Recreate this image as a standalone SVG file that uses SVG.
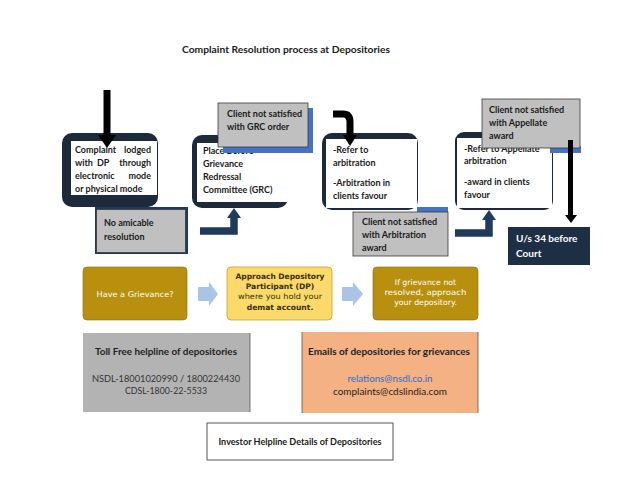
<svg xmlns="http://www.w3.org/2000/svg" width="640" height="500" viewBox="0 0 640 500">
<style>
text{font-family:Lato,"Liberation Sans",sans-serif;}
.b{font-weight:bold;font-size:9px;fill:#1a1a1a;}
.e{text-anchor:end;}
.frame{fill:#1c2a3b;}
.white{fill:#ffffff;}
.gray{fill:#c0c0c0;stroke:#3a3a3a;stroke-width:0.8;}
.blue{fill:#4472c4;}
.gold{fill:#b8900e;stroke:#8a6a08;stroke-width:0.6;}
.g{font-size:7.8px;fill:#ffffff;text-anchor:middle;font-family:"DejaVu Sans",sans-serif;}
.y{font-size:7.6px;fill:#3a3000;text-anchor:middle;font-family:"DejaVu Sans",sans-serif;}
.nav{fill:none;stroke:#1f3a5a;stroke-width:7.5;}
.blk{fill:none;stroke:#000;stroke-width:7;}
.lb{fill:#a9c4e4;}
.h{font-size:8.6px;text-anchor:middle;}
</style>
<rect width="640" height="500" fill="#ffffff"/>
<text x="286" y="53" text-anchor="middle" font-weight="bold" font-size="9.8" fill="#1a1a1a" textLength="208" lengthAdjust="spacingAndGlyphs">Complaint Resolution process at Depositories</text>

<g id="node-complaint">
<rect class="frame" x="62" y="133" width="96" height="74" rx="10"/>
<rect class="white" x="71" y="141" width="86" height="54"/>
<text class="b" x="75" y="153">Complaint</text><text class="b e" x="151" y="153">lodged</text>
<text class="b" x="75" y="166">with</text><text class="b" x="97" y="166">DP</text><text class="b e" x="151" y="166">through</text>
<text class="b" x="75" y="179">electronic</text><text class="b e" x="151" y="179">mode</text>
<text class="b" x="75" y="192">or physical mode</text>
</g>

<g id="node-no-amicable">
<rect fill="#1f3a5a" x="95" y="207" width="93" height="47"/>
<rect class="gray" x="96.5" y="209.5" width="89" height="43" stroke="none"/>
<text class="b" x="104" y="226">No amicable</text>
<text class="b" x="104" y="240">resolution</text>
</g>

<g id="node-grc">
<rect class="frame" x="192" y="135" width="96" height="73" rx="10"/>
<rect class="white" x="197" y="143" width="91" height="59"/>
<text class="b" x="203" y="154">Place Before</text>
<text class="b" x="203" y="167">Grievance</text>
<text class="b" x="203" y="180">Redressal</text>
<text class="b" x="203" y="193">Committee (GRC)</text>
</g>

<g id="node-grc-unsatisfied">
<rect class="blue" x="223" y="108" width="90" height="45"/>
<rect class="gray" x="218" y="103" width="90" height="44"/>
<text class="b" x="227" y="117">Client not satisfied</text>
<text class="b" x="227" y="130">with GRC order</text>
</g>

<g id="node-arbitration">
<rect class="frame" x="322" y="133" width="96" height="77" rx="10"/>
<rect class="white" x="326" y="139" width="91" height="69"/>
<text class="b" x="333" y="153">-Refer to</text>
<text class="b" x="333" y="166">arbitration</text>
<text class="b" x="333" y="186">-Arbitration in</text>
<text class="b" x="333" y="199">clients favour</text>
</g>

<g id="node-arb-unsatisfied">
<rect class="blue" x="417" y="207" width="31" height="6"/>
<rect class="gray" x="353" y="212" width="95" height="44"/>
<text class="b" x="362" y="225">Client not satisfied</text>
<text class="b" x="362" y="238">with Arbitration</text>
<text class="b" x="362" y="251">award</text>
</g>

<g id="node-appellate">
<rect class="frame" x="455" y="132" width="98" height="78" rx="9"/>
<rect class="white" x="457" y="138" width="95" height="70"/>
<text class="b" x="464" y="152">-Refer to Appellate</text>
<text class="b" x="464" y="164">arbitration</text>
<text class="b" x="464" y="185">-award in clients</text>
<text class="b" x="464" y="198">favour</text>
</g>

<g id="node-app-unsatisfied">
<rect class="blue" x="550" y="146" width="31" height="7"/>
<rect class="gray" x="482" y="99" width="98" height="49"/>
<text class="b" x="489" y="113">Client not satisfied</text>
<text class="b" x="489" y="126">with Appellate</text>
<text class="b" x="489" y="139">award</text>
</g>

<g id="node-court">
<rect fill="#1e2f45" x="508" y="227" width="82" height="38"/>
<text x="516" y="242" font-weight="bold" font-size="10" fill="#ffffff">U/s 34 before</text>
<text x="516" y="257" font-weight="bold" font-size="10" fill="#ffffff">Court</text>
</g>

<g id="connectors">
<line class="blk" x1="107" y1="90" x2="107" y2="136"/>
<polygon points="98,135 116,135 107,148" fill="#000"/>
<polyline class="nav" points="200,231 234,231 234,216"/>
<polygon points="227,218 241,218 234,208" fill="#1f3a5a"/>
<path class="blk" d="M333,114 H343 Q350,114 350,122 V137"/>
<polygon points="343,135 357,135 350,146" fill="#000"/>
<polyline class="nav" points="455,233 489,233 489,218"/>
<polygon points="482,220 496,220 489,210" fill="#1f3a5a"/>
<line x1="570.5" y1="140" x2="570.5" y2="216" stroke="#000" stroke-width="5"/>
<polygon points="565,215 577,215 571,223" fill="#000"/>
<polygon class="lb" points="198,287 209,287 209,282 218,294 209,306 209,301 198,301"/>
<polygon class="lb" points="342,287 353,287 353,282 363,294 353,306 353,301 342,301"/>
</g>

<g id="node-have-grievance">
<rect class="gold" x="83" y="267" width="104" height="53" rx="4"/>
<text class="g" x="135" y="297" textLength="77" lengthAdjust="spacingAndGlyphs">Have a Grievance?</text>
</g>

<g id="node-approach-dp">
<rect fill="#fbd96a" stroke="#c9a227" stroke-width="0.8" x="227" y="267" width="105" height="53" rx="4"/>
<text class="y" x="280" y="279" font-weight="bold" textLength="89" lengthAdjust="spacingAndGlyphs">Approach Depository</text>
<text class="y" x="280" y="289" font-weight="bold">Participant (DP)</text>
<text class="y" x="280" y="299" textLength="84" lengthAdjust="spacingAndGlyphs">where you hold your</text>
<text class="y" x="280" y="310" font-weight="bold">demat account.</text>
</g>

<g id="node-approach-depository">
<rect class="gold" x="373" y="267" width="105" height="53" rx="4"/>
<text class="g" x="425.5" y="285">If grievance not</text>
<text class="g" x="425.5" y="295" textLength="82" lengthAdjust="spacingAndGlyphs">resolved, approach</text>
<text class="g" x="425.5" y="305">your depository.</text>
</g>

<g id="node-tollfree">
<rect fill="#b3b3b3" x="83" y="333" width="167" height="79"/>
<line x1="250" y1="333" x2="250" y2="412" stroke="#555" stroke-width="0.8"/>
<text class="h" x="166" y="355" font-weight="bold" fill="#222" textLength="142" lengthAdjust="spacingAndGlyphs">Toll Free helpline of depositories</text>
<text class="h" x="166" y="382" fill="#333" textLength="148" lengthAdjust="spacingAndGlyphs">NSDL-18001020990 / 1800224430</text>
<text class="h" x="166" y="394" fill="#333" textLength="82" lengthAdjust="spacingAndGlyphs">CDSL-1800-22-5533</text>
</g>

<g id="node-emails">
<rect fill="#f4b183" x="302" y="332" width="176" height="81"/>
<line x1="302" y1="332" x2="302" y2="413" stroke="#555" stroke-width="0.8"/>
<line x1="478" y1="332" x2="478" y2="413" stroke="#555" stroke-width="0.8"/>
<text class="h" x="389" y="355" font-weight="bold" fill="#222" textLength="162" lengthAdjust="spacingAndGlyphs">Emails of depositories  for grievances</text>
<text class="h" x="390" y="382" fill="#2e6fc7" textLength="85" lengthAdjust="spacingAndGlyphs">relations@nsdl.co.in</text>
<text class="h" x="390" y="395" fill="#222" textLength="114" lengthAdjust="spacingAndGlyphs">complaints@cdslindia.com</text>
</g>

<g id="node-helpline-title">
<rect fill="#ffffff" stroke="#555" stroke-width="1" x="207" y="423" width="186" height="37"/>
<text x="300" y="445" text-anchor="middle" font-weight="bold" font-size="8.8" fill="#1a1a1a" textLength="163" lengthAdjust="spacingAndGlyphs">Investor Helpline Details of Depositories</text>
</g>
</svg>
